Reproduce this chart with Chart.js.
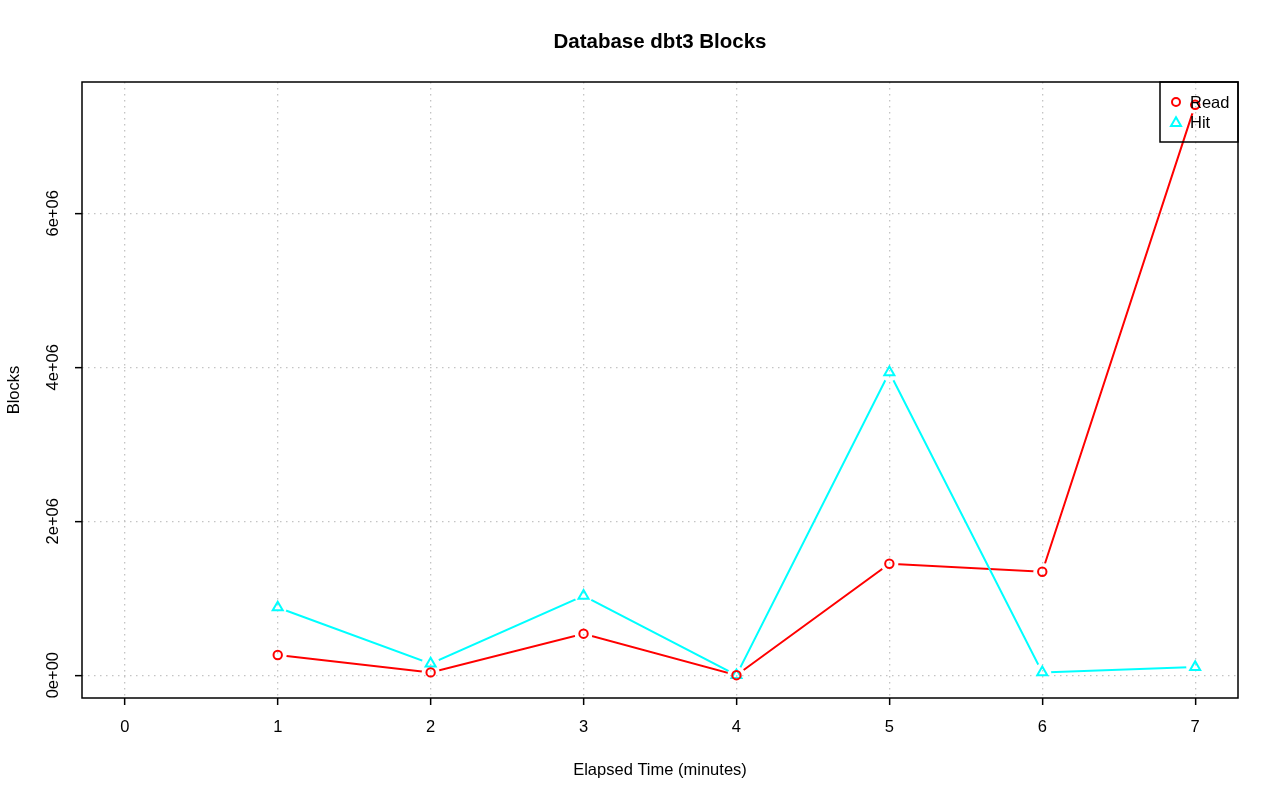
<!DOCTYPE html>
<html>
<head>
<meta charset="utf-8">
<script src="https://cdn.jsdelivr.net/npm/chart.js@4/dist/chart.umd.min.js"></script>
<style>
html,body{margin:0;padding:0;background:#fff;}
canvas{display:block;}
</style>
</head>
<body>
<canvas id="c" width="1280" height="801"></canvas>
<script>
const chartTitle = 'Database dbt3 Blocks';
const xAxisTitle = 'Elapsed Time (minutes)';
const yAxisTitle = 'Blocks';
const times = [1, 2, 3, 4, 5, 6, 7];
const readBlocks = [262000, 36000, 539000, 0, 1448000, 1344000, 7410000];
const hitBlocks = [880000, 150000, 1032000, 0, 3935000, 36000, 106000];
const xTicks = [0, 1, 2, 3, 4, 5, 6, 7];
const yTicks = [0, 2000000, 4000000, 6000000];
const yTickLabels = ['0e+00', '2e+06', '4e+06', '6e+06'];
const seriesNames = ['Read', 'Hit'];

const FONT = '"Liberation Sans", Arial, Helvetica, sans-serif';
const FS = 16.5;
const READ_COLOR = '#ff0000';
const HIT_COLOR = '#00ffff';

const toXY = (vals) => vals.map((v, i) => ({x: times[i], y: v}));
const dataMax = Math.max(...readBlocks, ...hitBlocks);
const xSpan = xTicks[xTicks.length - 1] - xTicks[0];

// clip lines around points to mimic R type="b"
const gapPlugin = {
  id: 'gap',
  beforeDatasetDraw(chart, args) {
    const ds = chart.data.datasets[args.index];
    if (ds.gapOf === undefined) return;
    const ctx = chart.ctx;
    const pts = chart.getDatasetMeta(ds.gapOf).data;
    ctx.save();
    ctx.beginPath();
    ctx.rect(0, 0, chart.width, chart.height);
    pts.forEach(p => { ctx.moveTo(p.x + 9, p.y); ctx.arc(p.x, p.y, 9, 0, Math.PI * 2); });
    ctx.clip('evenodd');
  },
  afterDatasetDraw(chart, args) {
    const ds = chart.data.datasets[args.index];
    if (ds.gapOf === undefined) return;
    chart.ctx.restore();
  }
};

const decorPlugin = {
  id: 'decor',
  afterDraw(chart) {
    const ctx = chart.ctx;
    const a = chart.chartArea;
    const ys = chart.scales.y;
    ctx.save();
    // box
    ctx.strokeStyle = '#000';
    ctx.lineWidth = 1.5;
    ctx.strokeRect(a.left, a.top, a.right - a.left, a.bottom - a.top);
    // y tick labels rotated
    ctx.fillStyle = '#000';
    ctx.font = FS + 'px ' + FONT;
    ctx.textAlign = 'center';
    ctx.textBaseline = 'middle';
    yTicks.forEach((v, i) => {
      const py = ys.getPixelForValue(v);
      ctx.save();
      ctx.translate(53, py);
      ctx.rotate(-Math.PI / 2);
      ctx.fillText(yTickLabels[i], 0, 0);
      ctx.restore();
    });
    // axis titles
    ctx.fillText(xAxisTitle, (a.left + a.right) / 2, 770);
    ctx.save();
    ctx.translate(14, (a.top + a.bottom) / 2);
    ctx.rotate(-Math.PI / 2);
    ctx.fillText(yAxisTitle, 0, 0);
    ctx.restore();
    // title
    ctx.font = 'bold 20.5px ' + FONT;
    ctx.fillText(chartTitle, (a.left + a.right) / 2, 42);
    // legend
    const lx = 1160, ly = a.top, lw = a.right - lx, lh = 60;
    ctx.lineWidth = 1.5;
    ctx.strokeStyle = '#000';
    ctx.strokeRect(lx, ly, lw, lh);
    ctx.font = FS + 'px ' + FONT;
    ctx.textAlign = 'left';
    const styles = ['circle', 'triangle'];
    const colors = [READ_COLOR, HIT_COLOR];
    const radii = [4, 5.8];
    seriesNames.forEach((n, i) => {
      const yy = ly + 20 + i * 20;
      ctx.save();
      ctx.strokeStyle = colors[i];
      ctx.fillStyle = 'rgba(0,0,0,0)';
      ctx.lineWidth = 2;
      Chart.helpers.drawPoint(ctx, {pointStyle: styles[i], radius: radii[i], borderWidth: 2}, lx + 16, yy + (i === 1 ? 1 : 0));
      ctx.restore();
      ctx.fillStyle = '#000';
      ctx.fillText(n, lx + 30, yy + 1);
    });
    ctx.restore();
  }
};

new Chart(document.getElementById('c'), {
  type: 'line',
  data: {
    datasets: [
      {label: seriesNames[0], data: toXY(readBlocks), showLine: false, pointStyle: 'circle', pointRadius: 4.2, pointBorderWidth: 2, borderColor: READ_COLOR, backgroundColor: 'rgba(0,0,0,0)', pointBackgroundColor: 'rgba(0,0,0,0)', pointBorderColor: READ_COLOR},
      {label: seriesNames[1], data: toXY(hitBlocks), showLine: false, pointStyle: 'triangle', pointRadius: 5.8, pointBorderWidth: 2, borderColor: HIT_COLOR, backgroundColor: 'rgba(0,0,0,0)', pointBackgroundColor: 'rgba(0,0,0,0)', pointBorderColor: HIT_COLOR},
      {label: seriesNames[1] + ' line', gapOf: 1, data: toXY(hitBlocks), pointRadius: 0, borderColor: HIT_COLOR, borderWidth: 2, tension: 0, fill: false},
      {label: seriesNames[0] + ' line', gapOf: 0, data: toXY(readBlocks), pointRadius: 0, borderColor: READ_COLOR, borderWidth: 2, tension: 0, fill: false}
    ]
  },
  options: {
    responsive: false,
    animation: false,
    devicePixelRatio: 1,
    events: [],
    layout: {padding: {left: 0, right: 42, top: 82, bottom: 0}},
    plugins: {legend: {display: false}, title: {display: false}, tooltip: {enabled: false}},
    scales: {
      x: {
        type: 'linear',
        min: xTicks[0] - 0.04 * xSpan,
        max: xTicks[xTicks.length - 1] + 0.04 * xSpan,
        afterBuildTicks: (s) => { s.ticks = xTicks.map(v => ({value: v})); },
        afterFit: (s) => { s.height = 103; },
        ticks: {color: '#000', font: {family: FONT, size: FS}, padding: 13, maxRotation: 0, autoSkip: false, callback: (v) => String(v)},
        grid: {color: '#c4c4c4', lineWidth: 1.3, drawTicks: true, tickLength: 7, tickColor: '#000', tickWidth: 1.5, tickBorderDash: []},
        border: {display: false, dash: [1.5, 4.5]}
      },
      y: {
        type: 'linear',
        min: -0.04 * dataMax,
        max: 1.04 * dataMax,
        afterBuildTicks: (s) => { s.ticks = yTicks.map(v => ({value: v})); },
        afterFit: (s) => { s.width = 82; },
        ticks: {display: false},
        grid: {color: '#c4c4c4', lineWidth: 1.3, drawTicks: true, tickLength: 7, tickColor: '#000', tickWidth: 1.5, tickBorderDash: []},
        border: {display: false, dash: [1.5, 4.5]}
      }
    }
  },
  plugins: [gapPlugin, decorPlugin]
});
</script>
</body>
</html>
